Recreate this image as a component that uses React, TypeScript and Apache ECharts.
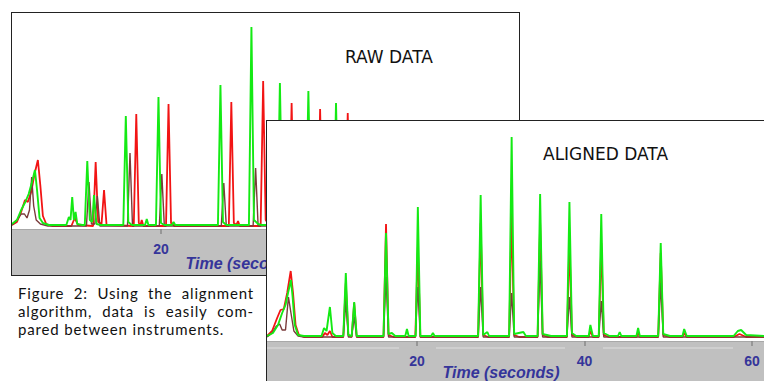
import React, { useEffect, useRef } from "react";
import * as echarts from "echarts";

// ---------- DATA (time in seconds, signal in relative units) ----------
const tickValues = [20, 40, 60];
const axisTitle = "Time (seconds)";
const rawTitle = "RAW DATA";
const alignedTitle = "ALIGNED DATA";
const captionLines = [
  "Figure 2: Using the alignment",
  "algorithm, data is easily com-",
  "pared between instruments.",
];

const rawGreen: number[][] = [
  [2.2, 1], [2.8, 3], [3.3, 8], [3.8, 12], [4.2, 16], [4.6, 22], [4.95, 28], [5.2, 18], [5.5, 4], [5.9, 1.5], [6.6, 0.5], [8.7, 0.5],
  [9.0, 4.5], [9.2, 3], [9.4, 14.5], [9.6, 3], [9.8, 7], [10.0, 1], [10.6, 0.5],
  [10.9, 0.5], [11.2, 32.5], [11.5, 3], [11.8, 2], [12.0, 15.5], [12.3, 1], [12.8, 0.5],
  [15.5, 0.5], [15.8, 55], [16.1, 2], [16.5, 0.5],
  [18.1, 0.5], [18.3, 3.5], [18.5, 0.5],
  [19.4, 0.5], [19.7, 64.5], [20.0, 1.5], [20.4, 0.5],
  [21.3, 0.5], [21.5, 2], [21.7, 0.5],
  [26.8, 0.5], [27.1, 70.5], [27.4, 2], [27.8, 0.5],
  [30.5, 0.5], [30.8, 99.5], [31.1, 3], [31.6, 1], [32.0, 0.5],
  [33.9, 0.5], [34.2, 71.5], [34.5, 2], [35.0, 0.5],
  [37.3, 0.5], [37.6, 67.5], [37.9, 2], [38.4, 0.5],
  [40.6, 0.5], [40.9, 61.5], [41.2, 2], [41.7, 0.5],
  [48.2, 0.5], [48.5, 47], [48.8, 1.5], [49.4, 0.5],
  [62.7, 0.5],
];

const rawRed: number[][] = [
  [2.2, 0.5], [2.8, 2], [3.3, 7], [3.76, 13], [4.1, 12], [4.5, 17], [4.9, 26], [5.3, 33], [5.6, 20], [5.9, 5], [6.3, 1], [7.0, 0],
  [9.3, 0], [9.7, 4], [10.1, 0.5],
  [11.9, 0], [12.2, 32], [12.5, 2], [12.9, 1], [13.2, 18], [13.5, 0.5],
  [16.75, 0], [17.05, 56], [17.35, 1.5], [17.55, 0.5], [17.7, 3], [17.9, 0],
  [20.6, 0], [20.9, 61], [21.2, 1.5], [21.6, 0],
  [28.1, 0], [28.4, 62], [28.7, 1.5], [29.0, 0.5], [29.2, 2.5], [29.4, 0],
  [31.9, 0], [32.2, 72.5], [32.5, 3], [33.0, 0],
  [35.3, 0], [35.6, 61.5], [35.9, 1.5], [36.4, 0],
  [38.7, 0], [39.0, 58.5], [39.3, 1.5], [39.8, 0],
  [42.0, 0], [42.3, 56.5], [42.6, 1.5], [43.1, 0],
  [49.9, 0], [50.2, 45], [50.5, 1], [51.0, 0],
  [62.7, 0],
];

const rawBrown: number[][] = [
  [2.2, 0.5], [2.8, 3], [3.3, 6], [3.7, 6], [4.0, 4], [4.3, 8], [4.56, 24.5], [4.8, 10], [5.1, 3], [5.6, 1], [6.5, 0],
  [11.1, 0], [11.4, 22], [11.7, 1], [12.1, 1], [12.4, 15], [12.7, 0],
  [16.0, 0], [16.3, 36.5], [16.6, 0],
  [19.8, 0], [20.1, 26], [20.4, 0],
  [27.2, 0], [27.5, 21.5], [27.8, 0],
  [31.0, 0], [31.3, 29], [31.6, 0],
  [34.6, 0], [34.9, 30], [35.2, 0],
  [38.0, 0], [38.3, 20], [38.6, 0],
  [62.7, 0],
];

const alignedGreen: number[][] = [
  [2.1, 0.5], [2.8, 2], [3.4, 6], [3.9, 12], [4.3, 16], [4.6, 22], [4.95, 28.5], [5.15, 20], [5.4, 6], [5.8, 1], [6.5, 0.5],
  [8.6, 0.5], [8.9, 4.5], [9.2, 3], [9.6, 15], [9.9, 2], [10.3, 0.5],
  [11.2, 0.5], [11.5, 32], [11.8, 1], [12.2, 0.5], [12.5, 17.5], [12.8, 0.5],
  [16.0, 0.5], [16.3, 52], [16.6, 1.5], [17.0, 2], [17.4, 0.5],
  [18.6, 0.5], [18.8, 4], [19.0, 0.5],
  [19.85, 0.5], [20.1, 65], [20.4, 0.5],
  [21.7, 0.5], [21.9, 2], [22.1, 0.5],
  [27.3, 0.5], [27.6, 71], [27.9, 1], [28.4, 2.5], [28.6, 0.5],
  [31.0, 0.5], [31.3, 100], [31.6, 1.5], [32.7, 2.5], [33.0, 0.5],
  [34.4, 0.5], [34.7, 71.5], [35.0, 1.5], [36.0, 0.5],
  [37.9, 0.5], [38.2, 67.5], [38.5, 2], [39.0, 0.5],
  [40.5, 0.5], [40.7, 6], [41.0, 0.5],
  [41.7, 0.5], [42.0, 61.5], [42.3, 2], [43.0, 0.5],
  [44.0, 0.5], [44.2, 2.5], [44.4, 0.5],
  [46.2, 0.5], [46.4, 4.5], [46.6, 0.5],
  [48.8, 0.5], [49.1, 47], [49.4, 1.5], [50.2, 0.5],
  [51.7, 0.5], [51.9, 4], [52.2, 0.5],
  [57.8, 0.5], [58.3, 3], [58.7, 3.5], [59.3, 1], [61.5, 0.5],
];

const alignedRed: number[][] = [
  [2.1, 0.5], [2.7, 3], [3.3, 9.5], [3.7, 13.5], [4.1, 14], [4.5, 22], [4.92, 33], [5.2, 22], [5.5, 6], [5.9, 1], [6.5, 0],
  [8.7, 0], [9.0, 2], [9.3, 1], [9.6, 3], [9.9, 0],
  [11.2, 0], [11.5, 27], [11.8, 1], [12.2, 0], [12.5, 17], [12.8, 0],
  [16.0, 0], [16.3, 56.5], [16.6, 1], [17.2, 0],
  [19.8, 0], [20.1, 45], [20.4, 0],
  [27.3, 0], [27.6, 57], [27.9, 1], [28.5, 0],
  [31.0, 0], [31.3, 62], [31.6, 1], [32.2, 0],
  [34.4, 0], [34.7, 57], [35.0, 1], [35.6, 0],
  [37.9, 0], [38.2, 48], [38.5, 1], [39.1, 0],
  [40.5, 0], [40.7, 3], [41.0, 0],
  [41.7, 0], [42.0, 47], [42.3, 1], [42.9, 0],
  [46.2, 0], [46.4, 2], [46.6, 0],
  [48.8, 0], [49.1, 42], [49.4, 1], [50.1, 0],
  [51.7, 0], [51.9, 2], [52.2, 0],
  [57.8, 0], [58.5, 1.5], [59.3, 0], [61.5, 0],
];

const alignedBrown: number[][] = [
  [2.1, 0], [2.7, 2], [3.2, 5.5], [3.6, 6.5], [3.9, 3.5], [4.3, 3.5], [4.65, 20], [4.95, 12], [5.3, 3], [5.8, 0.5], [6.5, 0],
  [11.2, 0], [11.5, 18], [11.8, 0],
  [12.2, 0], [12.5, 10], [12.8, 0],
  [16.0, 0], [16.3, 30], [16.6, 0],
  [19.8, 0], [20.1, 25], [20.4, 0],
  [27.3, 0], [27.6, 25], [27.9, 0],
  [31.0, 0], [31.3, 22], [31.6, 0],
  [34.4, 0], [34.7, 38], [35.0, 0],
  [37.9, 0], [38.2, 20], [38.5, 0],
  [41.7, 0], [42.0, 18], [42.3, 0],
  [48.8, 0], [49.1, 27], [49.4, 0],
  [61.5, 0],
];

// ---------- STYLE ----------
const GREEN = "#14ea14";
const RED = "#f21414";
const BROWN = "#7a3b3b";
const AXIS_BLUE = "#35359a";
const BAND = "#c0c0c0";

function lineSeries(data: number[][], color: string, width: number) {
  return {
    type: "line",
    data,
    showSymbol: false,
    symbol: "none",
    smooth: false,
    lineStyle: { color, width },
    silent: true,
  };
}

function panelOption(
  xMin: number,
  xMax: number,
  yMin: number,
  yMax: number,
  gridHeight: number,
  series: any[],
  graphics: any[]
) {
  return {
    animation: false,
    backgroundColor: BAND,
    grid: {
      left: 0,
      right: 0,
      top: 0,
      height: gridHeight,
      show: true,
      backgroundColor: "#ffffff",
      borderWidth: 0,
    },
    xAxis: {
      type: "value",
      min: xMin,
      max: xMax,
      splitLine: { show: false },
      axisLine: { show: true, onZero: false, lineStyle: { color: "#a8a8a8", width: 1 } },
      axisTick: { show: true, customValues: tickValues, length: 5, lineStyle: { color: "#8a8a8a", width: 1.5 } },
      axisLabel: {
        customValues: tickValues,
        color: AXIS_BLUE,
        fontWeight: "bold",
        fontSize: 14,
        fontFamily: "Liberation Sans, Arial, sans-serif",
        margin: 13,
      },
    },
    yAxis: { type: "value", min: yMin, max: yMax, show: false },
    series,
    graphic: graphics,
  };
}

export default function App() {
  const rawRef = useRef<HTMLDivElement>(null);
  const alignedRef = useRef<HTMLDivElement>(null);

  useEffect(() => {
    const raw = echarts.init(rawRef.current!, null, { renderer: "svg" });
    const aligned = echarts.init(alignedRef.current!, null, { renderer: "svg" });

    raw.setOption(
      panelOption(
        2.21, 62.75, -1.5, 106.5, 216,
        [lineSeries(rawRed, RED, 1.8), lineSeries(rawBrown, BROWN, 1.4), lineSeries(rawGreen, GREEN, 1.9)],
        [
          {
            type: "text",
            x: 333,
            y: 44,
            style: {
              text: rawTitle,
              font: '17px "DejaVu Sans", sans-serif',
              fill: "#111",
              textAlign: "left",
              textVerticalAlign: "middle",
            },
          },
          {
            type: "text",
            x: 232,
            y: 250,
            style: {
              text: axisTitle,
              font: 'italic bold 16px "Liberation Sans", Arial, sans-serif',
              fill: AXIS_BLUE,
              textAlign: "center",
              textVerticalAlign: "middle",
            },
          },
        ]
      )
    );

    aligned.setOption(
      panelOption(
        2.09, 61.43, -2, 108, 220,
        [lineSeries(alignedRed, RED, 1.8), lineSeries(alignedBrown, BROWN, 1.4), lineSeries(alignedGreen, GREEN, 1.9)],
        [
          { type: "line", shape: { x1: 0, y1: 227, x2: 132, y2: 227 }, style: { stroke: "#dedede", lineWidth: 1 } },
          { type: "line", shape: { x1: 169, y1: 227, x2: 298, y2: 227 }, style: { stroke: "#dedede", lineWidth: 1 } },
          { type: "line", shape: { x1: 336, y1: 227, x2: 466, y2: 227 }, style: { stroke: "#dedede", lineWidth: 1 } },
          {
            type: "text",
            x: 276,
            y: 33,
            style: {
              text: alignedTitle,
              font: '17px "DejaVu Sans", sans-serif',
              fill: "#111",
              textAlign: "left",
              textVerticalAlign: "middle",
            },
          },
          {
            type: "text",
            x: 234,
            y: 251,
            style: {
              text: axisTitle,
              font: 'italic bold 16px "Liberation Sans", Arial, sans-serif',
              fill: AXIS_BLUE,
              textAlign: "center",
              textVerticalAlign: "middle",
            },
          },
        ]
      )
    );

    return () => {
      raw.dispose();
      aligned.dispose();
    };
  }, []);

  return (
    <div
      style={{
        position: "absolute",
        left: 0,
        top: 0,
        width: 764,
        height: 381,
        overflow: "hidden",
        background: "#ffffff",
      }}
    >
      {/* RAW panel */}
      <div
        style={{
          position: "absolute",
          left: 11,
          top: 12,
          width: 507,
          height: 262,
          border: "1px solid #222",
        }}
      >
        <div ref={rawRef} style={{ width: 507, height: 262 }} />
      </div>

      {/* Caption */}
      <div
        style={{
          position: "absolute",
          left: 18,
          top: 284,
          width: 236,
          fontFamily: "Lato, 'Open Sans', sans-serif",
          fontSize: 15,
          letterSpacing: "0.85px",
          lineHeight: "18px",
          color: "#111",
          whiteSpace: "nowrap",
        }}
      >
        <div style={{ textAlign: "justify", textAlignLast: "justify" }}>{captionLines[0]}</div>
        <div style={{ textAlign: "justify", textAlignLast: "justify" }}>{captionLines[1]}</div>
        <div>{captionLines[2]}</div>
      </div>

      {/* ALIGNED panel */}
      <div
        style={{
          position: "absolute",
          left: 266,
          top: 120,
          width: 497,
          height: 260,
          borderLeft: "1px solid #222",
          borderTop: "1px solid #222",
          background: "#ffffff",
        }}
      >
        <div ref={alignedRef} style={{ width: 497, height: 260 }} />
      </div>
    </div>
  );
}
